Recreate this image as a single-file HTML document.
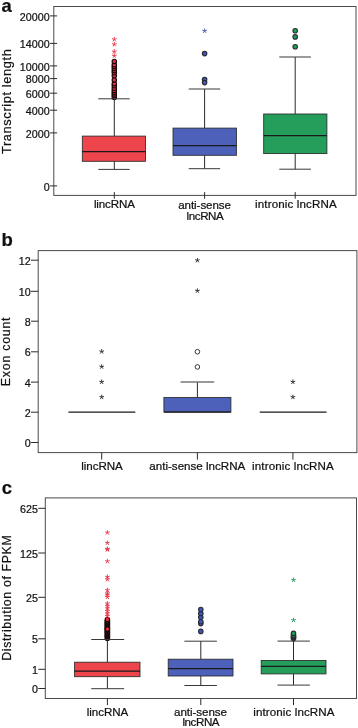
<!DOCTYPE html>
<html><head><meta charset="utf-8"><title>Figure</title>
<style>html,body{margin:0;padding:0;background:#fff}svg{display:block}</style></head>
<body>
<svg width="358" height="728" viewBox="0 0 358 728" font-family='"Liberation Sans", Arial, sans-serif'>
<rect width="358" height="728" fill="#fff"/>
<text x="1.5" y="11.6" font-size="18.4" text-anchor="start" font-weight="bold" fill="#111" stroke="#111" stroke-width="0.22">a</text>
<rect x="53.8" y="6.5" width="302.20" height="188.90" fill="none" stroke="#4a4a4a" stroke-width="1"/>
<line x1="50.099999999999994" y1="15.9" x2="57.099999999999994" y2="15.9" stroke="#2a2a2a" stroke-width="1"/>
<text x="49.599999999999994" y="20.6" font-size="10.7" text-anchor="end" font-weight="normal" fill="#111" stroke="#111" stroke-width="0.22">20000</text>
<line x1="50.099999999999994" y1="43.4" x2="57.099999999999994" y2="43.4" stroke="#2a2a2a" stroke-width="1"/>
<text x="49.599999999999994" y="48.1" font-size="10.7" text-anchor="end" font-weight="normal" fill="#111" stroke="#111" stroke-width="0.22">14000</text>
<line x1="50.099999999999994" y1="65.9" x2="57.099999999999994" y2="65.9" stroke="#2a2a2a" stroke-width="1"/>
<text x="49.599999999999994" y="70.60000000000001" font-size="10.7" text-anchor="end" font-weight="normal" fill="#111" stroke="#111" stroke-width="0.22">10000</text>
<line x1="50.099999999999994" y1="78.6" x2="57.099999999999994" y2="78.6" stroke="#2a2a2a" stroke-width="1"/>
<text x="49.599999999999994" y="83.3" font-size="10.7" text-anchor="end" font-weight="normal" fill="#111" stroke="#111" stroke-width="0.22">8000</text>
<line x1="50.099999999999994" y1="93.2" x2="57.099999999999994" y2="93.2" stroke="#2a2a2a" stroke-width="1"/>
<text x="49.599999999999994" y="97.9" font-size="10.7" text-anchor="end" font-weight="normal" fill="#111" stroke="#111" stroke-width="0.22">6000</text>
<line x1="50.099999999999994" y1="110.2" x2="57.099999999999994" y2="110.2" stroke="#2a2a2a" stroke-width="1"/>
<text x="49.599999999999994" y="114.9" font-size="10.7" text-anchor="end" font-weight="normal" fill="#111" stroke="#111" stroke-width="0.22">4000</text>
<line x1="50.099999999999994" y1="132.9" x2="57.099999999999994" y2="132.9" stroke="#2a2a2a" stroke-width="1"/>
<text x="49.599999999999994" y="137.6" font-size="10.7" text-anchor="end" font-weight="normal" fill="#111" stroke="#111" stroke-width="0.22">2000</text>
<line x1="50.099999999999994" y1="185.9" x2="57.099999999999994" y2="185.9" stroke="#2a2a2a" stroke-width="1"/>
<text x="49.599999999999994" y="190.6" font-size="10.7" text-anchor="end" font-weight="normal" fill="#111" stroke="#111" stroke-width="0.22">0</text>
<text transform="translate(10.9 101.6) rotate(-90)" font-size="12.8" text-anchor="middle" fill="#111" stroke="#111" stroke-width="0.22" textLength="104.8" lengthAdjust="spacing">Transcript length</text>
<circle cx="114.3" cy="97.4" r="2.2" fill="#f02a3a" stroke="#16080a" stroke-width="1.15"/>
<circle cx="114.3" cy="95.6" r="2.2" fill="#f02a3a" stroke="#16080a" stroke-width="1.15"/>
<circle cx="114.3" cy="93.9" r="2.2" fill="#f02a3a" stroke="#16080a" stroke-width="1.15"/>
<circle cx="114.3" cy="92.2" r="2.2" fill="#f02a3a" stroke="#16080a" stroke-width="1.15"/>
<circle cx="114.3" cy="90.4" r="2.2" fill="#f02a3a" stroke="#16080a" stroke-width="1.15"/>
<circle cx="114.3" cy="88.3" r="2.2" fill="#f02a3a" stroke="#16080a" stroke-width="1.15"/>
<circle cx="114.3" cy="85.8" r="2.2" fill="#f02a3a" stroke="#16080a" stroke-width="1.15"/>
<circle cx="114.3" cy="83.7" r="2.2" fill="#f02a3a" stroke="#16080a" stroke-width="1.15"/>
<circle cx="114.3" cy="75.7" r="2.2" fill="#f02a3a" stroke="#16080a" stroke-width="1.15"/>
<circle cx="114.3" cy="72.8" r="2.2" fill="#f02a3a" stroke="#16080a" stroke-width="1.15"/>
<circle cx="114.3" cy="70.7" r="2.2" fill="#f02a3a" stroke="#16080a" stroke-width="1.15"/>
<circle cx="114.3" cy="68.6" r="2.2" fill="#f02a3a" stroke="#16080a" stroke-width="1.15"/>
<circle cx="114.3" cy="66.6" r="2.2" fill="#f02a3a" stroke="#16080a" stroke-width="1.15"/>
<circle cx="114.3" cy="64.8" r="2.2" fill="#f02a3a" stroke="#16080a" stroke-width="1.15"/>
<circle cx="114.3" cy="79.9" r="2.2" fill="#f02a3a" stroke="#16080a" stroke-width="1.15"/>
<circle cx="114.3" cy="61.4" r="2.2" fill="#f02a3a" stroke="#16080a" stroke-width="1.15"/>
<path d="M114.30 39.40L114.30 36.95M114.30 39.40L116.63 38.64M114.30 39.40L115.74 41.38M114.30 39.40L112.86 41.38M114.30 39.40L111.97 38.64" stroke="#ea2f3f" stroke-width="0.9" fill="none"/>
<path d="M114.30 44.40L114.30 41.95M114.30 44.40L116.63 43.64M114.30 44.40L115.74 46.38M114.30 44.40L112.86 46.38M114.30 44.40L111.97 43.64" stroke="#ea2f3f" stroke-width="0.9" fill="none"/>
<path d="M114.30 51.60L114.30 49.15M114.30 51.60L116.63 50.84M114.30 51.60L115.74 53.58M114.30 51.60L112.86 53.58M114.30 51.60L111.97 50.84" stroke="#ea2f3f" stroke-width="0.9" fill="none"/>
<path d="M114.30 55.80L114.30 53.35M114.30 55.80L116.63 55.04M114.30 55.80L115.74 57.78M114.30 55.80L112.86 57.78M114.30 55.80L111.97 55.04" stroke="#ea2f3f" stroke-width="0.9" fill="none"/>
<line x1="114.3" y1="98.8" x2="114.3" y2="136.1" stroke="#2a2a2a" stroke-width="1"/>
<line x1="114.3" y1="161.3" x2="114.3" y2="169.4" stroke="#2a2a2a" stroke-width="1"/>
<line x1="98.3" y1="98.8" x2="129.7" y2="98.8" stroke="#383838" stroke-width="1"/>
<line x1="98.3" y1="169.4" x2="129.7" y2="169.4" stroke="#383838" stroke-width="1"/>
<rect x="82.3" y="136.1" width="63.20" height="25.20" fill="#ee454d" stroke="#2a2a2a" stroke-width="0.85"/>
<line x1="82.3" y1="151.5" x2="145.5" y2="151.5" stroke="#1a1a1a" stroke-width="1.25"/>
<path d="M204.60 30.90L204.60 28.45M204.60 30.90L206.93 30.14M204.60 30.90L206.04 32.88M204.60 30.90L203.16 32.88M204.60 30.90L202.27 30.14" stroke="#3f55b8" stroke-width="0.9" fill="none"/>
<circle cx="204.6" cy="53.6" r="2.25" fill="#3a58cc" stroke="#2b2b33" stroke-width="1.1"/>
<circle cx="204.6" cy="79.6" r="2.25" fill="#3a58cc" stroke="#2b2b33" stroke-width="1.1"/>
<circle cx="204.6" cy="82.6" r="2.25" fill="#3a58cc" stroke="#2b2b33" stroke-width="1.1"/>
<line x1="204.6" y1="89" x2="204.6" y2="128.1" stroke="#2a2a2a" stroke-width="1"/>
<line x1="204.6" y1="155.3" x2="204.6" y2="168.7" stroke="#2a2a2a" stroke-width="1"/>
<line x1="188.7" y1="89" x2="220.2" y2="89" stroke="#383838" stroke-width="1"/>
<line x1="188.7" y1="168.7" x2="220.2" y2="168.7" stroke="#383838" stroke-width="1"/>
<rect x="173" y="128.1" width="63.40" height="27.20" fill="#4d61ba" stroke="#2a2a2a" stroke-width="0.85"/>
<line x1="173" y1="145.6" x2="236.4" y2="145.6" stroke="#1a1a1a" stroke-width="1.25"/>
<circle cx="295.2" cy="30.7" r="2.25" fill="#1f9f58" stroke="#2b2b33" stroke-width="1.1"/>
<circle cx="295.2" cy="36.9" r="2.25" fill="#1f9f58" stroke="#2b2b33" stroke-width="1.1"/>
<circle cx="295.2" cy="46.7" r="2.25" fill="#1f9f58" stroke="#2b2b33" stroke-width="1.1"/>
<line x1="295.2" y1="57" x2="295.2" y2="114" stroke="#2a2a2a" stroke-width="1"/>
<line x1="295.2" y1="153.6" x2="295.2" y2="169.2" stroke="#2a2a2a" stroke-width="1"/>
<line x1="279.3" y1="57" x2="310.9" y2="57" stroke="#383838" stroke-width="1"/>
<line x1="279.3" y1="169.2" x2="310.9" y2="169.2" stroke="#383838" stroke-width="1"/>
<rect x="263.7" y="114" width="63.20" height="39.60" fill="#259d5b" stroke="#2a2a2a" stroke-width="0.85"/>
<line x1="263.7" y1="135.5" x2="326.9" y2="135.5" stroke="#1a1a1a" stroke-width="1.25"/>
<line x1="114.3" y1="192.1" x2="114.3" y2="198.70000000000002" stroke="#2a2a2a" stroke-width="1"/>
<line x1="204.6" y1="192.1" x2="204.6" y2="198.70000000000002" stroke="#2a2a2a" stroke-width="1"/>
<line x1="295.2" y1="192.1" x2="295.2" y2="198.70000000000002" stroke="#2a2a2a" stroke-width="1"/>
<text x="114.4" y="208.4" font-size="11.6" text-anchor="middle" font-weight="normal" fill="#111" stroke="#111" stroke-width="0.22" textLength="41.0" lengthAdjust="spacing">lincRNA</text>
<text x="204.6" y="208.5" font-size="11.6" text-anchor="middle" font-weight="normal" fill="#111" stroke="#111" stroke-width="0.22" textLength="52.8" lengthAdjust="spacing">anti-sense</text>
<text x="205.2" y="219.5" font-size="11.6" text-anchor="middle" font-weight="normal" fill="#111" stroke="#111" stroke-width="0.22" textLength="37.2" lengthAdjust="spacing">lncRNA</text>
<text x="295.85" y="208.4" font-size="11.6" text-anchor="middle" font-weight="normal" fill="#111" stroke="#111" stroke-width="0.22" textLength="81.7" lengthAdjust="spacing">intronic lncRNA</text>
<text x="1.6" y="246" font-size="18.5" text-anchor="start" font-weight="bold" fill="#111" stroke="#111" stroke-width="0.22">b</text>
<rect x="38.2" y="250.6" width="318.70" height="202.00" fill="none" stroke="#4a4a4a" stroke-width="1"/>
<line x1="31.000000000000004" y1="260.2" x2="38.2" y2="260.2" stroke="#2a2a2a" stroke-width="1"/>
<text x="30.6" y="264.8" font-size="10.7" text-anchor="end" font-weight="normal" fill="#111" stroke="#111" stroke-width="0.22">12</text>
<line x1="31.000000000000004" y1="291.3" x2="38.2" y2="291.3" stroke="#2a2a2a" stroke-width="1"/>
<text x="30.6" y="295.90000000000003" font-size="10.7" text-anchor="end" font-weight="normal" fill="#111" stroke="#111" stroke-width="0.22">10</text>
<line x1="31.000000000000004" y1="321.2" x2="38.2" y2="321.2" stroke="#2a2a2a" stroke-width="1"/>
<text x="30.6" y="325.8" font-size="10.7" text-anchor="end" font-weight="normal" fill="#111" stroke="#111" stroke-width="0.22">8</text>
<line x1="31.000000000000004" y1="351.8" x2="38.2" y2="351.8" stroke="#2a2a2a" stroke-width="1"/>
<text x="30.6" y="356.40000000000003" font-size="10.7" text-anchor="end" font-weight="normal" fill="#111" stroke="#111" stroke-width="0.22">6</text>
<line x1="31.000000000000004" y1="382.1" x2="38.2" y2="382.1" stroke="#2a2a2a" stroke-width="1"/>
<text x="30.6" y="386.70000000000005" font-size="10.7" text-anchor="end" font-weight="normal" fill="#111" stroke="#111" stroke-width="0.22">4</text>
<line x1="31.000000000000004" y1="412.2" x2="38.2" y2="412.2" stroke="#2a2a2a" stroke-width="1"/>
<text x="30.6" y="416.8" font-size="10.7" text-anchor="end" font-weight="normal" fill="#111" stroke="#111" stroke-width="0.22">2</text>
<line x1="31.000000000000004" y1="442.5" x2="38.2" y2="442.5" stroke="#2a2a2a" stroke-width="1"/>
<text x="30.6" y="447.1" font-size="10.7" text-anchor="end" font-weight="normal" fill="#111" stroke="#111" stroke-width="0.22">0</text>
<text transform="translate(9.9 351.8) rotate(-90)" font-size="12.3" text-anchor="middle" fill="#111" stroke="#111" stroke-width="0.22" textLength="68.7" lengthAdjust="spacing">Exon count</text>
<path d="M101.70 397.13L101.70 394.68M101.70 397.13L104.03 396.37M101.70 397.13L103.14 399.11M101.70 397.13L100.26 399.11M101.70 397.13L99.37 396.37" stroke="#222" stroke-width="0.9" fill="none"/>
<path d="M101.70 381.94L101.70 379.49M101.70 381.94L104.03 381.18M101.70 381.94L103.14 383.92M101.70 381.94L100.26 383.92M101.70 381.94L99.37 381.18" stroke="#222" stroke-width="0.9" fill="none"/>
<path d="M101.70 366.75L101.70 364.30M101.70 366.75L104.03 365.99M101.70 366.75L103.14 368.73M101.70 366.75L100.26 368.73M101.70 366.75L99.37 365.99" stroke="#222" stroke-width="0.9" fill="none"/>
<path d="M101.70 351.56L101.70 349.11M101.70 351.56L104.03 350.80M101.70 351.56L103.14 353.54M101.70 351.56L100.26 353.54M101.70 351.56L99.37 350.80" stroke="#222" stroke-width="0.9" fill="none"/>
<line x1="68.4" y1="412.1" x2="135.3" y2="412.1" stroke="#1a1a1a" stroke-width="1.3"/>
<path d="M197.40 290.80L197.40 288.35M197.40 290.80L199.73 290.04M197.40 290.80L198.84 292.78M197.40 290.80L195.96 292.78M197.40 290.80L195.07 290.04" stroke="#222" stroke-width="0.9" fill="none"/>
<path d="M197.40 260.42L197.40 257.97M197.40 260.42L199.73 259.66M197.40 260.42L198.84 262.40M197.40 260.42L195.96 262.40M197.40 260.42L195.07 259.66" stroke="#222" stroke-width="0.9" fill="none"/>
<circle cx="197.4" cy="366.95" r="2.3" fill="#fff" stroke="#222" stroke-width="0.9"/>
<circle cx="197.4" cy="351.76" r="2.3" fill="#fff" stroke="#222" stroke-width="0.9"/>
<line x1="197.4" y1="382" x2="197.4" y2="397.3" stroke="#2a2a2a" stroke-width="1"/>
<line x1="180.6" y1="382" x2="214.2" y2="382" stroke="#777" stroke-width="1.3"/>
<rect x="163.9" y="397.4" width="67.00" height="14.60" fill="#4d61ba" stroke="#2a2a2a" stroke-width="0.85"/>
<line x1="163.9" y1="412.1" x2="230.9" y2="412.1" stroke="#1a1a1a" stroke-width="1.3"/>
<path d="M292.90 397.13L292.90 394.68M292.90 397.13L295.23 396.37M292.90 397.13L294.34 399.11M292.90 397.13L291.46 399.11M292.90 397.13L290.57 396.37" stroke="#222" stroke-width="0.9" fill="none"/>
<path d="M292.90 381.94L292.90 379.49M292.90 381.94L295.23 381.18M292.90 381.94L294.34 383.92M292.90 381.94L291.46 383.92M292.90 381.94L290.57 381.18" stroke="#222" stroke-width="0.9" fill="none"/>
<line x1="259.8" y1="412.1" x2="326.5" y2="412.1" stroke="#1a1a1a" stroke-width="1.3"/>
<line x1="101.7" y1="452.6" x2="101.7" y2="459.6" stroke="#2a2a2a" stroke-width="1"/>
<line x1="197.4" y1="452.6" x2="197.4" y2="459.6" stroke="#2a2a2a" stroke-width="1"/>
<line x1="292.9" y1="452.6" x2="292.9" y2="459.6" stroke="#2a2a2a" stroke-width="1"/>
<text x="102.0" y="469.9" font-size="11.6" text-anchor="middle" font-weight="normal" fill="#111" stroke="#111" stroke-width="0.22" textLength="41.4" lengthAdjust="spacing">lincRNA</text>
<text x="197.3" y="469.9" font-size="11.6" text-anchor="middle" font-weight="normal" fill="#111" stroke="#111" stroke-width="0.22">anti-sense lncRNA</text>
<text x="292.9" y="470" font-size="11.6" text-anchor="middle" font-weight="normal" fill="#111" stroke="#111" stroke-width="0.22" textLength="81.8" lengthAdjust="spacing">intronic lncRNA</text>
<text x="1.8" y="493.9" font-size="18.5" text-anchor="start" font-weight="bold" fill="#111" stroke="#111" stroke-width="0.22">c</text>
<rect x="45.3" y="497.9" width="311.20" height="200.60" fill="none" stroke="#4a4a4a" stroke-width="1"/>
<line x1="38.3" y1="508.3" x2="45.3" y2="508.3" stroke="#2a2a2a" stroke-width="1"/>
<text x="37.9" y="512.9" font-size="10.7" text-anchor="end" font-weight="normal" fill="#111" stroke="#111" stroke-width="0.22">625</text>
<line x1="38.3" y1="553" x2="45.3" y2="553" stroke="#2a2a2a" stroke-width="1"/>
<text x="37.9" y="557.6" font-size="10.7" text-anchor="end" font-weight="normal" fill="#111" stroke="#111" stroke-width="0.22">125</text>
<line x1="38.3" y1="597.3" x2="45.3" y2="597.3" stroke="#2a2a2a" stroke-width="1"/>
<text x="37.9" y="601.9" font-size="10.7" text-anchor="end" font-weight="normal" fill="#111" stroke="#111" stroke-width="0.22">25</text>
<line x1="38.3" y1="638.8" x2="45.3" y2="638.8" stroke="#2a2a2a" stroke-width="1"/>
<text x="37.9" y="643.4" font-size="10.7" text-anchor="end" font-weight="normal" fill="#111" stroke="#111" stroke-width="0.22">5</text>
<line x1="38.3" y1="669.3" x2="45.3" y2="669.3" stroke="#2a2a2a" stroke-width="1"/>
<text x="37.9" y="673.9" font-size="10.7" text-anchor="end" font-weight="normal" fill="#111" stroke="#111" stroke-width="0.22">1</text>
<line x1="38.3" y1="688.5" x2="45.3" y2="688.5" stroke="#2a2a2a" stroke-width="1"/>
<text x="37.9" y="693.1" font-size="10.7" text-anchor="end" font-weight="normal" fill="#111" stroke="#111" stroke-width="0.22">0</text>
<text transform="translate(11.1 598.0) rotate(-90)" font-size="12.3" text-anchor="middle" fill="#111" stroke="#111" stroke-width="0.22" textLength="125.5" lengthAdjust="spacing">Distribution of FPKM</text>
<circle cx="107.4" cy="638.4" r="2.2" fill="#f02a3a" stroke="#16080a" stroke-width="1.15"/>
<circle cx="107.4" cy="637.6" r="2.2" fill="#f02a3a" stroke="#16080a" stroke-width="1.15"/>
<circle cx="107.4" cy="636.8" r="2.2" fill="#f02a3a" stroke="#16080a" stroke-width="1.15"/>
<circle cx="107.4" cy="636.0" r="2.2" fill="#f02a3a" stroke="#16080a" stroke-width="1.15"/>
<circle cx="107.4" cy="635.2" r="2.2" fill="#f02a3a" stroke="#16080a" stroke-width="1.15"/>
<circle cx="107.4" cy="634.4" r="2.2" fill="#f02a3a" stroke="#16080a" stroke-width="1.15"/>
<circle cx="107.4" cy="633.6" r="2.2" fill="#f02a3a" stroke="#16080a" stroke-width="1.15"/>
<circle cx="107.4" cy="632.8" r="2.2" fill="#f02a3a" stroke="#16080a" stroke-width="1.15"/>
<circle cx="107.4" cy="632.0" r="2.2" fill="#f02a3a" stroke="#16080a" stroke-width="1.15"/>
<circle cx="107.4" cy="631.2" r="2.2" fill="#f02a3a" stroke="#16080a" stroke-width="1.15"/>
<circle cx="107.4" cy="630.4" r="2.2" fill="#f02a3a" stroke="#16080a" stroke-width="1.15"/>
<circle cx="107.4" cy="629.6" r="2.2" fill="#f02a3a" stroke="#16080a" stroke-width="1.15"/>
<circle cx="107.4" cy="628.8" r="2.2" fill="#f02a3a" stroke="#16080a" stroke-width="1.15"/>
<circle cx="107.4" cy="628.0" r="2.2" fill="#f02a3a" stroke="#16080a" stroke-width="1.15"/>
<circle cx="107.4" cy="627.2" r="2.2" fill="#f02a3a" stroke="#16080a" stroke-width="1.15"/>
<circle cx="107.4" cy="626.4" r="2.2" fill="#f02a3a" stroke="#16080a" stroke-width="1.15"/>
<circle cx="107.4" cy="625.6" r="2.2" fill="#f02a3a" stroke="#16080a" stroke-width="1.15"/>
<circle cx="107.4" cy="624.8" r="2.2" fill="#f02a3a" stroke="#16080a" stroke-width="1.15"/>
<circle cx="107.4" cy="624.0" r="2.2" fill="#f02a3a" stroke="#16080a" stroke-width="1.15"/>
<circle cx="107.4" cy="623.2" r="2.2" fill="#f02a3a" stroke="#16080a" stroke-width="1.15"/>
<circle cx="107.4" cy="622.4" r="2.2" fill="#f02a3a" stroke="#16080a" stroke-width="1.15"/>
<circle cx="107.4" cy="621.6" r="2.2" fill="#f02a3a" stroke="#16080a" stroke-width="1.15"/>
<circle cx="107.4" cy="620.8" r="2.2" fill="#f02a3a" stroke="#16080a" stroke-width="1.15"/>
<circle cx="107.4" cy="629.0" r="2.2" fill="#f02a3a" stroke="#16080a" stroke-width="1.15"/>
<circle cx="107.4" cy="619.4" r="2.2" fill="#f02a3a" stroke="#16080a" stroke-width="1.15"/>
<path d="M107.40 532.60L107.40 530.15M107.40 532.60L109.73 531.84M107.40 532.60L108.84 534.58M107.40 532.60L105.96 534.58M107.40 532.60L105.07 531.84" stroke="#ea2f3f" stroke-width="0.9" fill="none"/>
<path d="M107.40 542.90L107.40 540.45M107.40 542.90L109.73 542.14M107.40 542.90L108.84 544.88M107.40 542.90L105.96 544.88M107.40 542.90L105.07 542.14" stroke="#ea2f3f" stroke-width="0.9" fill="none"/>
<path d="M107.40 549.00L107.40 546.55M107.40 549.00L109.73 548.24M107.40 549.00L108.84 550.98M107.40 549.00L105.96 550.98M107.40 549.00L105.07 548.24" stroke="#ea2f3f" stroke-width="0.9" fill="none"/>
<path d="M107.40 549.60L107.40 547.15M107.40 549.60L109.73 548.84M107.40 549.60L108.84 551.58M107.40 549.60L105.96 551.58M107.40 549.60L105.07 548.84" stroke="#ea2f3f" stroke-width="0.9" fill="none"/>
<path d="M107.40 561.30L107.40 558.85M107.40 561.30L109.73 560.54M107.40 561.30L108.84 563.28M107.40 561.30L105.96 563.28M107.40 561.30L105.07 560.54" stroke="#ea2f3f" stroke-width="0.9" fill="none"/>
<path d="M107.40 576.90L107.40 574.45M107.40 576.90L109.73 576.14M107.40 576.90L108.84 578.88M107.40 576.90L105.96 578.88M107.40 576.90L105.07 576.14" stroke="#ea2f3f" stroke-width="0.9" fill="none"/>
<path d="M107.40 579.40L107.40 576.95M107.40 579.40L109.73 578.64M107.40 579.40L108.84 581.38M107.40 579.40L105.96 581.38M107.40 579.40L105.07 578.64" stroke="#ea2f3f" stroke-width="0.9" fill="none"/>
<path d="M107.40 590.10L107.40 587.65M107.40 590.10L109.73 589.34M107.40 590.10L108.84 592.08M107.40 590.10L105.96 592.08M107.40 590.10L105.07 589.34" stroke="#ea2f3f" stroke-width="0.9" fill="none"/>
<path d="M107.40 593.40L107.40 590.95M107.40 593.40L109.73 592.64M107.40 593.40L108.84 595.38M107.40 593.40L105.96 595.38M107.40 593.40L105.07 592.64" stroke="#ea2f3f" stroke-width="0.9" fill="none"/>
<path d="M107.40 594.80L107.40 592.35M107.40 594.80L109.73 594.04M107.40 594.80L108.84 596.78M107.40 594.80L105.96 596.78M107.40 594.80L105.07 594.04" stroke="#ea2f3f" stroke-width="0.9" fill="none"/>
<path d="M107.40 597.00L107.40 594.55M107.40 597.00L109.73 596.24M107.40 597.00L108.84 598.98M107.40 597.00L105.96 598.98M107.40 597.00L105.07 596.24" stroke="#ea2f3f" stroke-width="0.9" fill="none"/>
<path d="M107.40 603.50L107.40 601.05M107.40 603.50L109.73 602.74M107.40 603.50L108.84 605.48M107.40 603.50L105.96 605.48M107.40 603.50L105.07 602.74" stroke="#ea2f3f" stroke-width="0.9" fill="none"/>
<path d="M107.40 606.00L107.40 603.55M107.40 606.00L109.73 605.24M107.40 606.00L108.84 607.98M107.40 606.00L105.96 607.98M107.40 606.00L105.07 605.24" stroke="#ea2f3f" stroke-width="0.9" fill="none"/>
<path d="M107.40 608.50L107.40 606.05M107.40 608.50L109.73 607.74M107.40 608.50L108.84 610.48M107.40 608.50L105.96 610.48M107.40 608.50L105.07 607.74" stroke="#ea2f3f" stroke-width="0.9" fill="none"/>
<path d="M107.40 611.00L107.40 608.55M107.40 611.00L109.73 610.24M107.40 611.00L108.84 612.98M107.40 611.00L105.96 612.98M107.40 611.00L105.07 610.24" stroke="#ea2f3f" stroke-width="0.9" fill="none"/>
<path d="M107.40 613.50L107.40 611.05M107.40 613.50L109.73 612.74M107.40 613.50L108.84 615.48M107.40 613.50L105.96 615.48M107.40 613.50L105.07 612.74" stroke="#ea2f3f" stroke-width="0.9" fill="none"/>
<path d="M107.40 616.00L107.40 613.55M107.40 616.00L109.73 615.24M107.40 616.00L108.84 617.98M107.40 616.00L105.96 617.98M107.40 616.00L105.07 615.24" stroke="#ea2f3f" stroke-width="0.9" fill="none"/>
<line x1="107.4" y1="639.5" x2="107.4" y2="662.2" stroke="#2a2a2a" stroke-width="1"/>
<line x1="107.4" y1="676.7" x2="107.4" y2="688.7" stroke="#2a2a2a" stroke-width="1"/>
<line x1="91.2" y1="639.5" x2="124.2" y2="639.5" stroke="#383838" stroke-width="1"/>
<line x1="91.2" y1="688.7" x2="124.2" y2="688.7" stroke="#383838" stroke-width="1"/>
<rect x="74.6" y="662.2" width="65.40" height="14.50" fill="#ee454d" stroke="#2a2a2a" stroke-width="0.85"/>
<line x1="74.6" y1="671.2" x2="140" y2="671.2" stroke="#1a1a1a" stroke-width="1.25"/>
<circle cx="200.8" cy="631.4" r="2.25" fill="#3a58cc" stroke="#2b2b33" stroke-width="1.1"/>
<circle cx="200.8" cy="623.6" r="2.25" fill="#3a58cc" stroke="#2b2b33" stroke-width="1.1"/>
<circle cx="200.8" cy="621.8" r="2.25" fill="#3a58cc" stroke="#2b2b33" stroke-width="1.1"/>
<circle cx="200.8" cy="617.2" r="2.25" fill="#3a58cc" stroke="#2b2b33" stroke-width="1.1"/>
<circle cx="200.8" cy="613.6" r="2.25" fill="#3a58cc" stroke="#2b2b33" stroke-width="1.1"/>
<circle cx="200.8" cy="609.5" r="2.25" fill="#3a58cc" stroke="#2b2b33" stroke-width="1.1"/>
<line x1="200.8" y1="641.2" x2="200.8" y2="659.2" stroke="#2a2a2a" stroke-width="1"/>
<line x1="200.8" y1="676" x2="200.8" y2="685.5" stroke="#2a2a2a" stroke-width="1"/>
<line x1="184.4" y1="641.2" x2="216.9" y2="641.2" stroke="#383838" stroke-width="1"/>
<line x1="184.4" y1="685.5" x2="216.9" y2="685.5" stroke="#383838" stroke-width="1"/>
<rect x="168.2" y="659.2" width="64.80" height="16.80" fill="#4d61ba" stroke="#2a2a2a" stroke-width="0.85"/>
<line x1="168.2" y1="668.7" x2="233" y2="668.7" stroke="#1a1a1a" stroke-width="1.25"/>
<path d="M293.50 580.00L293.50 577.55M293.50 580.00L295.83 579.24M293.50 580.00L294.94 581.98M293.50 580.00L292.06 581.98M293.50 580.00L291.17 579.24" stroke="#1f9a58" stroke-width="0.9" fill="none"/>
<path d="M293.50 620.20L293.50 617.75M293.50 620.20L295.83 619.44M293.50 620.20L294.94 622.18M293.50 620.20L292.06 622.18M293.50 620.20L291.17 619.44" stroke="#1f9a58" stroke-width="0.9" fill="none"/>
<circle cx="293.5" cy="638.6" r="2.25" fill="#1f9f58" stroke="#2b2b33" stroke-width="1.1"/>
<circle cx="293.5" cy="637.6" r="2.25" fill="#1f9f58" stroke="#2b2b33" stroke-width="1.1"/>
<circle cx="293.5" cy="636.6" r="2.25" fill="#1f9f58" stroke="#2b2b33" stroke-width="1.1"/>
<circle cx="293.5" cy="635.4" r="2.25" fill="#1f9f58" stroke="#2b2b33" stroke-width="1.1"/>
<circle cx="293.5" cy="633.4" r="2.25" fill="#1f9f58" stroke="#2b2b33" stroke-width="1.1"/>
<line x1="293.5" y1="641.1" x2="293.5" y2="660.5" stroke="#2a2a2a" stroke-width="1"/>
<line x1="293.5" y1="673.9" x2="293.5" y2="685.1" stroke="#2a2a2a" stroke-width="1"/>
<line x1="277.5" y1="641.1" x2="309.9" y2="641.1" stroke="#383838" stroke-width="1"/>
<line x1="277.5" y1="685.1" x2="309.9" y2="685.1" stroke="#383838" stroke-width="1"/>
<rect x="261.2" y="660.5" width="64.80" height="13.40" fill="#259d5b" stroke="#2a2a2a" stroke-width="0.85"/>
<line x1="261.2" y1="666.3" x2="326.0" y2="666.3" stroke="#1a1a1a" stroke-width="1.25"/>
<line x1="107.4" y1="698.5" x2="107.4" y2="705.1" stroke="#2a2a2a" stroke-width="1"/>
<line x1="200.8" y1="698.5" x2="200.8" y2="705.1" stroke="#2a2a2a" stroke-width="1"/>
<line x1="293.5" y1="698.5" x2="293.5" y2="705.1" stroke="#2a2a2a" stroke-width="1"/>
<text x="107.5" y="715.8" font-size="11.6" text-anchor="middle" font-weight="normal" fill="#111" stroke="#111" stroke-width="0.22" textLength="41.4" lengthAdjust="spacing">lincRNA</text>
<text x="200.5" y="715.8" font-size="11.6" text-anchor="middle" font-weight="normal" fill="#111" stroke="#111" stroke-width="0.22" textLength="52.9" lengthAdjust="spacing">anti-sense</text>
<text x="201.0" y="725.9" font-size="11.6" text-anchor="middle" font-weight="normal" fill="#111" stroke="#111" stroke-width="0.22" textLength="37.2" lengthAdjust="spacing">lncRNA</text>
<text x="293.9" y="715.8" font-size="11.6" text-anchor="middle" font-weight="normal" fill="#111" stroke="#111" stroke-width="0.22" textLength="81.2" lengthAdjust="spacing">intronic lncRNA</text>
</svg>
</body></html>
